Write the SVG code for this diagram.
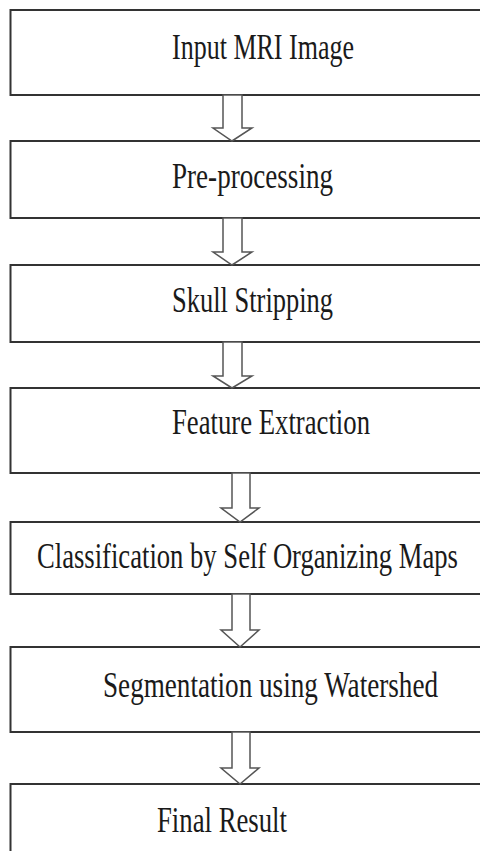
<svg xmlns="http://www.w3.org/2000/svg" width="480" height="851" viewBox="0 0 480 851">
<style>
.box{fill:#fff;stroke:#333;stroke-width:2}
.lbl{font-family:"Liberation Serif","DejaVu Serif",serif;font-size:35px;fill:#1a1a1a}
.arr{fill:#fff;stroke:#555;stroke-width:1.5;stroke-linejoin:miter}
</style>
<rect x="0" y="0" width="480" height="851" fill="#fff"/>
<g id="n1"><rect class="box" x="10.5" y="10" width="470.5" height="85"/><text class="lbl" transform="translate(172,59) scale(0.75,1)" textLength="242.7" lengthAdjust="spacingAndGlyphs">Input MRI Image</text></g>
<g id="n2"><rect class="box" x="10.5" y="141" width="470.5" height="77"/><text class="lbl" transform="translate(172,188) scale(0.75,1)" textLength="214.7" lengthAdjust="spacingAndGlyphs">Pre-processing</text></g>
<g id="n3"><rect class="box" x="10.5" y="265" width="470.5" height="77"/><text class="lbl" transform="translate(172,312) scale(0.75,1)" textLength="214.7" lengthAdjust="spacingAndGlyphs">Skull Stripping</text></g>
<g id="n4"><rect class="box" x="10.5" y="388" width="470.5" height="85"/><text class="lbl" transform="translate(172,434) scale(0.75,1)" textLength="264" lengthAdjust="spacingAndGlyphs">Feature Extraction</text></g>
<g id="n5"><rect class="box" x="10.5" y="522" width="470.5" height="72"/><text class="lbl" transform="translate(37,568) scale(0.75,1)" textLength="561.3" lengthAdjust="spacingAndGlyphs">Classification by Self Organizing Maps</text></g>
<g id="n6"><rect class="box" x="10.5" y="647" width="470.5" height="85"/><text class="lbl" transform="translate(103,697) scale(0.75,1)" textLength="446.7" lengthAdjust="spacingAndGlyphs">Segmentation using Watershed</text></g>
<g id="n7"><rect class="box" x="10.5" y="784" width="470.5" height="80"/><text class="lbl" transform="translate(157,832) scale(0.75,1)" textLength="173.3" lengthAdjust="spacingAndGlyphs">Final Result</text></g>
<g id="connectors">
<polygon class="arr" points="223,95 242,95 242,128 252,128 232,141 213,128 223,128"/>
<polygon class="arr" points="223,218 242,218 242,252 252,252 232,265 213,252 223,252"/>
<polygon class="arr" points="223,342 242,342 242,376 252,376 232,388 213,376 223,376"/>
<polygon class="arr" points="232,473 250,473 250,508 259,508 240,522 221,508 232,508"/>
<polygon class="arr" points="232,594 250,594 250,630 259,630 240,647 221,630 232,630"/>
<polygon class="arr" points="232,732 250,732 250,768 259,768 240,784 221,768 232,768"/>
</g>
</svg>
